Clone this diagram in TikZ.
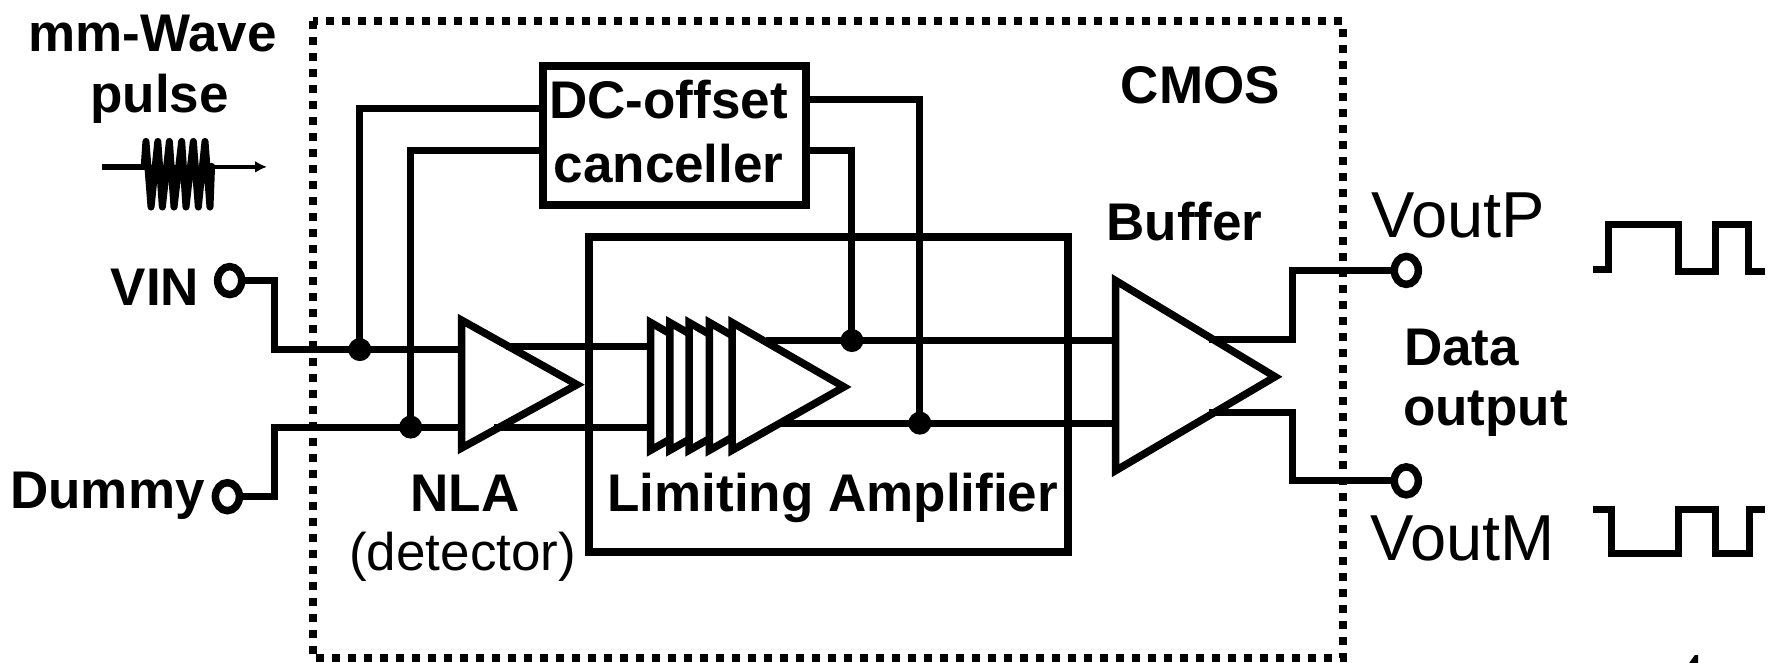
\documentclass[tikz,border=0pt]{standalone}
\usepackage{fontspec}
\setmainfont{Liberation Sans}
\usetikzlibrary{arrows.meta,shapes.geometric}
\tikzset{
 wire/.style={line width=7pt,line join=miter,line cap=rect},
 blockbox/.style={draw,line width=8pt,inner sep=0pt,align=center},
 amp/.style={draw,line width=7.5pt,fill=white,line join=miter},
 port/.style={ellipse,draw,line width=7.5pt,minimum width=24pt,minimum height=28pt,inner sep=0pt,fill=white},
 junction/.style={circle,fill=black,minimum size=23pt,inner sep=0pt},
 lbl/.style={font=\fontsize{53}{60}\selectfont\bfseries,inner sep=0pt,align=center},
 plainlbl/.style={font=\fontsize{53}{60}\selectfont,inner sep=0pt},
 biglbl/.style={font=\fontsize{65}{70}\selectfont,inner sep=0pt},
 chip/.style={line width=8pt,dash pattern=on 8pt off 8pt},
}
\begin{document}
\begin{tikzpicture}[x=1.13138pt,y=-1.13138pt]
\useasboundingbox (0,0) rectangle (1568,586);
% chip outline
\node[inner sep=0pt] (chipTL) at (277,19) {};
\node[inner sep=0pt] (chipBR) at (1187,582) {};
% nodes
\node[blockbox,minimum width=262.5pt,minimum height=139pt] (dc) at (596,119.5) {};
\node[blockbox,minimum width=478.5pt,minimum height=315.5pt] (la) at (732.5,348.5) {};
\node[lbl] (dct) at (591,88) {DC-offset};
\node[lbl] (dcb) at (591,145) {canceller};
\node[lbl] (t1) at (135,30) {mm-Wave};
\node[lbl] (t2) at (141,87) {pulse};
\node[lbl] (vin) at (137,254) {VIN};
\node[lbl] (dum) at (95,438) {Dummy};
\node[lbl] (nla) at (411,436) {NLA};
\node[plainlbl] (det) at (409,492) {(detector)};
\node[lbl] (lim) at (736,440) {Limiting Amplifier};
\node[lbl] (cmos) at (1061,75) {CMOS};
\node[lbl] (buf) at (1047,196) {Buffer};
\node[biglbl] (vp) at (1289,190) {VoutP};
\node[biglbl] (vm) at (1293,476) {VoutM};
\node[lbl,anchor=west] (dat) at (1241,307) {Data};
\node[lbl,anchor=west] (out) at (1240,366) {output};
% ports
\node[port] (pin) at (203,248) {};
\node[port] (pdm) at (201,439) {};
\node[port] (pop) at (1243,239) {};
\node[port] (pom) at (1243,425) {};
% junctions
\node[junction] (j1) at (318,309) {};
\node[junction] (j2) at (363,377.5) {};
\node[junction] (j3) at (753,301) {};
\node[junction] (j4) at (813,374) {};
% triangle corners
\coordinate (n1) at (408,283); \coordinate (n2) at (408,396); \coordinate (n3) at (510,340);
\coordinate (b1) at (986,248); \coordinate (b2) at (986,416); \coordinate (b3) at (1127,333);
% chip box
\draw[chip] (chipTL.center) rectangle (chipBR.center);
% wires
\draw[wire] (pin) -- (243,248) -- (243,309) -- (j1.center) -- (408,309);
\draw[wire] (pdm) -- (243,439) -- (243,377.5) -- (j2.center) -- (405,377.5);
\draw[wire] (dc.west|-0,96) -- (318,96) -- (j1.center);
\draw[wire] (dc.west|-0,133) -- (363,133) -- (j2.center);
\draw[wire] (450,306) -- (575,306);
\draw[wire] (440,378) -- (575,378);
\draw[wire] (680,301) -- (j3.center) -- (986,301);
\draw[wire] (690,374) -- (j4.center) -- (986,374);
\draw[wire] (dc.east|-0,88) -- (813,88) -- (j4.center);
\draw[wire] (dc.east|-0,133) -- (753,133) -- (j3.center);
\draw[wire] (1072,300) -- (1142,300) -- (1142,239) -- (pop);
\draw[wire] (1072,365) -- (1142,365) -- (1142,425) -- (pom);
% amplifiers
\draw[amp,fill=none] (n1) -- (n2) -- (n3) -- cycle;
\foreach \x in {575,592,609,627}{
 \draw[amp] (\x,285) -- (\x,398) -- (\x+99,342) -- cycle;}
\draw[amp] (647,285) -- (647,398) -- (746,342) -- cycle;
\draw[amp,fill=none] (b1) -- (b2) -- (b3) -- cycle;
% pulse
\coordinate (pa) at (90,147.5); \coordinate (pm) at (130,147.5); \coordinate (pb) at (236,147.5);
\draw[line width=6.5pt] (pa) -- (pm);
\draw[line width=4.5pt,-{Latex[length=12pt,width=12pt]}] (pm) -- (pb);
\draw[line width=7pt,line join=round,line cap=round] (127.5,147) -- (129,125) -- (133.5,183) -- (139.5,125) -- (143.5,183) -- (149.7,125) -- (153.8,183) -- (160.6,125) -- (164.4,183) -- (170.9,125) -- (175.3,183) -- (181.2,125) -- (185.6,183) -- (187,147);
% waveforms
\draw[wire,line cap=butt] (1408,238) -- (1422,238) -- (1422,198) -- (1484,198) -- (1484,240) -- (1516,240) -- (1516,198) -- (1545,198) -- (1545,240) -- (1560,240);
\draw[wire,line cap=butt] (1408,450) -- (1424,450) -- (1424,489) -- (1484,489) -- (1484,450) -- (1516,450) -- (1516,489) -- (1546,489) -- (1546,450) -- (1560,450);
% clipped fragment at the lower edge
\fill (1498,579) -- (1501,579) -- (1501,586) -- (1493,586) -- cycle;
\end{tikzpicture}
\end{document}
